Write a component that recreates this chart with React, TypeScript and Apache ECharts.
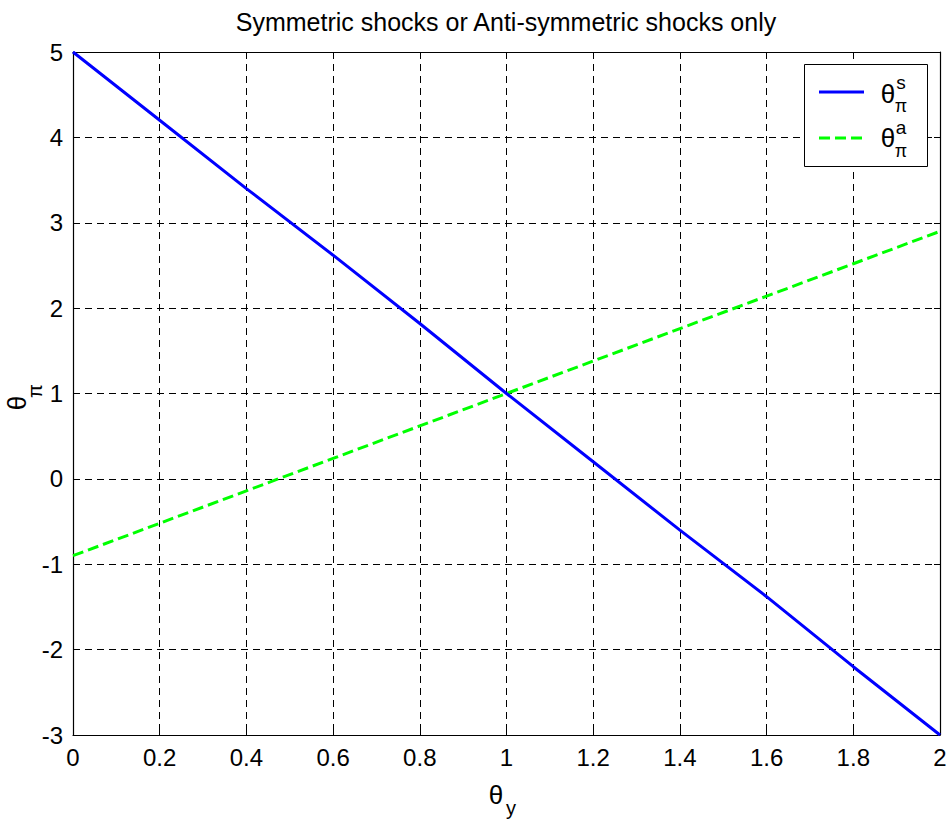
import React, { useEffect, useRef } from "react";
import * as echarts from "echarts";

const xTicks = [0, 0.2, 0.4, 0.6, 0.8, 1.0, 1.2, 1.4, 1.6, 1.8, 2.0];
const symmetricValues = [5.0, 4.2, 3.4, 2.62, 1.82, 1.0, 0.2, -0.6, -1.38, -2.2, -3.0];
const antiSymmetricValues = [-0.9, -0.52, -0.14, 0.24, 0.62, 1.0, 1.38, 1.76, 2.14, 2.52, 2.9];
const titleText = "Symmetric shocks or Anti-symmetric shocks only";

const FONT = "'Liberation Sans', Arial, Helvetica, sans-serif";

export default function App() {
  const ref = useRef<HTMLDivElement>(null);
  useEffect(() => {
    document.body.style.margin = "0";
    if (!ref.current) return;
    const chart = echarts.init(ref.current, undefined, { renderer: "svg" });
    const fmt = (v: number) => String(+Number(v).toFixed(1));
    const gridLine = { show: true, lineStyle: { color: "#000", width: 1, type: [7, 5] as any } };
    const axisLine = { show: true, onZero: false, lineStyle: { color: "#000", width: 1.2 } };
    const tick = { show: true, inside: true, length: 6, lineStyle: { color: "#000" } };
    const label = { color: "#000", fontSize: 24, fontFamily: FONT };
    const t = (x: number, y: number, text: string, size: number, extra: any = {}) => ({
      type: "text",
      x,
      y,
      z: 100,
      style: { text, fontSize: size, fontFamily: FONT, fill: "#000", align: "center", verticalAlign: "middle", ...extra },
    });
    const option: any = {
      animation: false,
      backgroundColor: "#fff",
      grid: { left: 73, top: 52, right: 10, bottom: 85 },
      xAxis: [
        {
          type: "value",
          min: 0,
          max: 2,
          interval: 0.2,
          axisLine,
          axisTick: tick,
          splitLine: gridLine,
          axisLabel: { ...label, margin: 10, formatter: fmt },
        },
        {
          type: "value",
          position: "top",
          min: 0,
          max: 2,
          interval: 0.2,
          axisLine,
          axisTick: tick,
          splitLine: { show: false },
          axisLabel: { show: false },
        },
      ],
      yAxis: [
        {
          type: "value",
          min: -3,
          max: 5,
          interval: 1,
          axisLine,
          axisTick: tick,
          splitLine: gridLine,
          axisLabel: { ...label, margin: 10 },
        },
        {
          type: "value",
          position: "right",
          min: -3,
          max: 5,
          interval: 1,
          axisLine,
          axisTick: tick,
          splitLine: { show: false },
          axisLabel: { show: false },
        },
      ],
      series: [
        {
          name: "symmetric",
          type: "line",
          xAxisIndex: 0,
          yAxisIndex: 0,
          data: xTicks.map((x, i) => [x, symmetricValues[i]]),
          symbol: "none",
          lineStyle: { color: "#0000FF", width: 3 },
          z: 5,
        },
        {
          name: "anti-symmetric",
          type: "line",
          xAxisIndex: 0,
          yAxisIndex: 0,
          data: xTicks.map((x, i) => [x, antiSymmetricValues[i]]),
          symbol: "none",
          lineStyle: { color: "#00FF00", width: 3, type: [11, 5] },
          z: 4,
        },
      ],
      graphic: [
        t(506, 22, titleText, 25),
        // x axis label
        t(496, 795, "θ", 26),
        t(511, 808, "y", 20),
        // y axis label (rotated)
        {
          type: "group",
          x: 17,
          y: 403,
          rotation: Math.PI / 2,
          z: 100,
          children: [t(0, 0, "θ", 26), t(12, 18, "π", 20)],
        },
        // legend
        {
          type: "rect",
          z: 99,
          shape: { x: 804.5, y: 64.5, width: 123, height: 102 },
          style: { fill: "#fff", stroke: "#000", lineWidth: 1 },
        },
        {
          type: "line",
          z: 100,
          shape: { x1: 819, y1: 92, x2: 864, y2: 92 },
          style: { stroke: "#0000FF", lineWidth: 3 },
        },
        t(888, 94, "θ", 26),
        t(901, 82, "s", 19),
        t(901, 106, "π", 18),
        {
          type: "line",
          z: 100,
          shape: { x1: 819, y1: 138, x2: 864, y2: 138 },
          style: { stroke: "#00FF00", lineWidth: 3, lineDash: [11, 5] },
        },
        t(888, 138, "θ", 26),
        t(901, 127, "a", 19),
        t(901, 151, "π", 18),
      ],
    };
    chart.setOption(option);
    return () => chart.dispose();
  }, []);
  return <div ref={ref} style={{ width: 950, height: 820 }} />;
}
